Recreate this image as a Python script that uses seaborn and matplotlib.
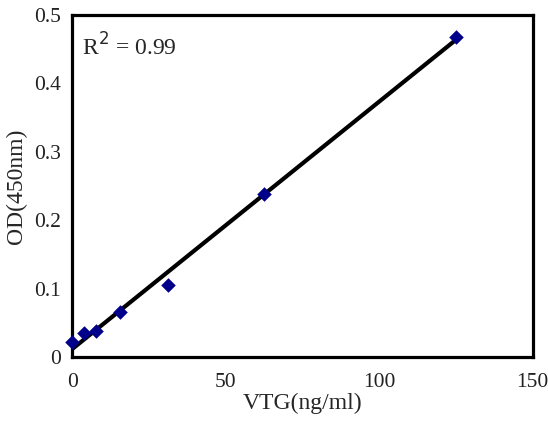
import numpy as np
import pandas as pd
import matplotlib
matplotlib.use("Agg")
import matplotlib.pyplot as plt
import seaborn as sns

vtg = [0, 3.9, 7.8, 15.6, 31.25, 62.5, 125]
od = [0.022, 0.035, 0.038, 0.067, 0.106, 0.239, 0.468]

df = pd.DataFrame({"VTG": vtg, "OD": od})

sns.set_style("white")
plt.rcParams['font.family'] = ['Liberation Serif', 'DejaVu Serif']

fig, ax = plt.subplots(figsize=(5.48, 4.23), dpi=100)
fig.subplots_adjust(left=0.132, right=0.972, top=0.965, bottom=0.155)

sns.regplot(
    x="VTG", y="OD", data=df, ci=None, ax=ax,
    marker="D",
    scatter_kws={"color": "#00008B", "s": 55, "zorder": 3, "linewidths": 0,
                 "alpha": 1, "clip_on": False},
    line_kws={"color": "black", "lw": 3, "zorder": 2},
    truncate=True,
)

ax.set_xlim(0, 150)
ax.set_ylim(0, 0.5)
ax.set_xticks([0, 50, 100, 150])
ax.set_yticks([0, 0.1, 0.2, 0.3, 0.4, 0.5])
ax.set_yticklabels(["0", "0.1", "0.2", "0.3", "0.4", "0.5"])

for s in ax.spines.values():
    s.set_linewidth(2.3)
    s.set_color("black")

ax.tick_params(axis="both", direction="in", length=4, width=0.6, color="#999999",
               labelsize=15.5, colors="#222222")
ax.tick_params(axis="x", pad=11)
ax.tick_params(axis="y", pad=8)

ax.set_xlabel("VTG(ng/ml)", fontsize=17, labelpad=1)
ax.set_ylabel("OD(450nm)", fontsize=17, labelpad=5)

ax.text(3, 0.44, r"R$^{2}$ = 0.99", fontsize=17)

plt.savefig("out.png", dpi=100)
